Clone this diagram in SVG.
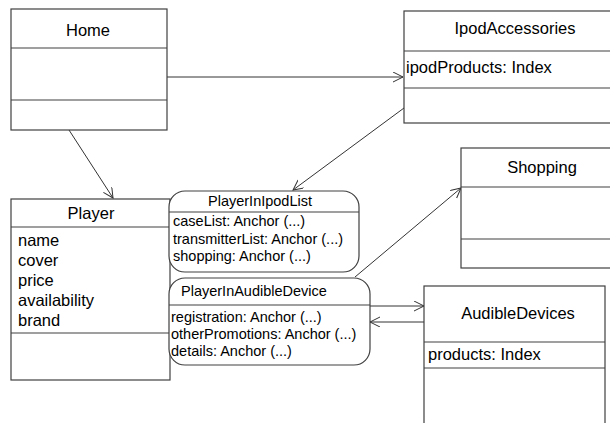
<svg xmlns="http://www.w3.org/2000/svg" width="610" height="423" viewBox="0 0 610 423">
<style>
.box{fill:#fff;stroke:#404040;stroke-width:1.2}
.ln{stroke:#404040;stroke-width:1.2;fill:none}
.t{font-family:"Liberation Sans",Arial,sans-serif;font-size:16.5px;fill:#000}
.s{font-family:"Liberation Sans",Arial,sans-serif;font-size:14.5px;fill:#000}
.c{text-anchor:middle}
.edge{stroke:#333;stroke-width:1;fill:none;marker-end:url(#arr)}
</style>
<defs>
<marker id="arr" markerWidth="12" markerHeight="12" refX="10" refY="5" orient="auto" markerUnits="userSpaceOnUse">
<path d="M0,0 L10,5 L0,10" fill="none" stroke="#333" stroke-width="1"/>
</marker>
</defs>
<rect width="610" height="423" fill="#fff"/>
<g id="connectors">
<line class="edge" x1="167" y1="77" x2="403" y2="77"/>
<line class="edge" x1="404" y1="108" x2="293" y2="190"/>
<line class="edge" x1="69" y1="130" x2="113" y2="198"/>
<line class="edge" x1="355" y1="277" x2="461" y2="188"/>
<line class="edge" x1="370" y1="306" x2="424" y2="306"/>
<line class="edge" x1="424" y1="322" x2="370" y2="322"/>
</g>
<g id="Home">
<rect class="box" x="11" y="9" width="156" height="121"/>
<line class="ln" x1="11" y1="48" x2="167" y2="48"/>
<line class="ln" x1="11" y1="100" x2="167" y2="100"/>
<text class="t c" x="88" y="36">Home</text>
</g>
<g id="IpodAccessories">
<rect class="box" x="404" y="11" width="220" height="112"/>
<line class="ln" x1="404" y1="51" x2="610" y2="51"/>
<line class="ln" x1="404" y1="88" x2="610" y2="88"/>
<text class="t c" x="515" y="34">IpodAccessories</text>
<text class="t" x="406" y="73">ipodProducts: Index</text>
</g>
<g id="Shopping">
<rect class="box" x="461" y="148" width="160" height="120"/>
<line class="ln" x1="461" y1="187" x2="610" y2="187"/>
<line class="ln" x1="461" y1="239" x2="610" y2="239"/>
<text class="t c" x="542" y="173">Shopping</text>
</g>
<g id="Player">
<rect class="box" x="11" y="199" width="159" height="181"/>
<line class="ln" x1="11" y1="227" x2="170" y2="227"/>
<line class="ln" x1="11" y1="333" x2="170" y2="333"/>
<text class="t c" x="91" y="219">Player</text>
<text class="t" x="18" y="246">name</text>
<text class="t" x="18" y="266">cover</text>
<text class="t" x="18" y="286">price</text>
<text class="t" x="18" y="306">availability</text>
<text class="t" x="18" y="326">brand</text>
</g>
<g id="PlayerInIpodList">
<rect class="box" x="169" y="191" width="190" height="81" rx="16" ry="16"/>
<line class="ln" x1="169" y1="212" x2="359" y2="212"/>
<text class="s c" x="260" y="206">PlayerInIpodList</text>
<text class="s" x="173" y="226">caseList: Anchor (...)</text>
<text class="s" x="173" y="244">transmitterList: Anchor (...)</text>
<text class="s" x="173" y="261">shopping: Anchor (...)</text>
</g>
<g id="PlayerInAudibleDevice">
<rect class="box" x="169" y="278" width="201" height="87" rx="16" ry="16"/>
<line class="ln" x1="169" y1="305" x2="370" y2="305"/>
<text class="s" x="181" y="296">PlayerInAudibleDevice</text>
<text class="s" x="171" y="322">registration: Anchor (...)</text>
<text class="s" x="171" y="339">otherPromotions: Anchor (...)</text>
<text class="s" x="171" y="356">details: Anchor (...)</text>
</g>
<g id="AudibleDevices">
<rect class="box" x="424" y="286" width="181" height="150"/>
<line class="ln" x1="424" y1="342" x2="605" y2="342"/>
<line class="ln" x1="424" y1="368" x2="605" y2="368"/>
<text class="t c" x="518" y="319">AudibleDevices</text>
<text class="t" x="428" y="360">products: Index</text>
</g>
</svg>
